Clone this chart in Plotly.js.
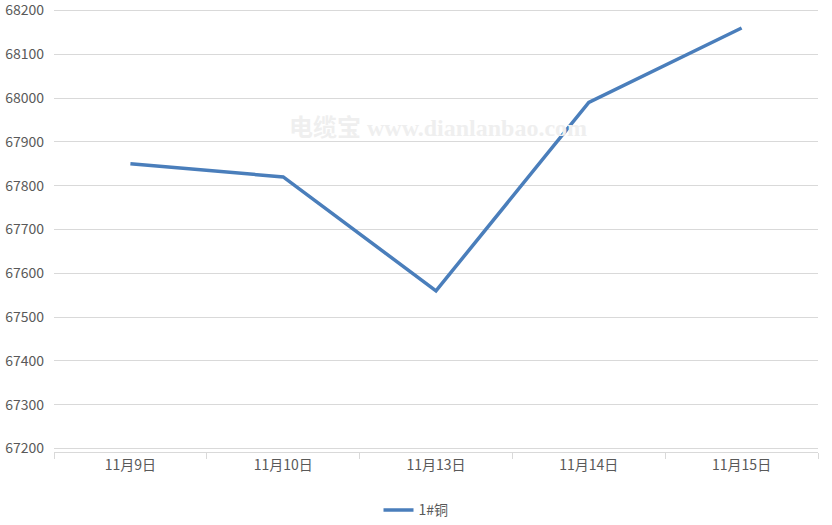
<!DOCTYPE html>
<html>
<head>
<meta charset="utf-8">
<script src="https://cdn.plot.ly/plotly-3.0.1.min.js"></script>
<style>html,body{margin:0;padding:0;background:#fff;}#chart{width:832px;height:525px;}</style>
</head>
<body>
<div id="chart"></div>
<script>
const categories = ["11月9日", "11月10日", "11月13日", "11月14日", "11月15日"];
const copperPrices = [67850, 67820, 67560, 67990, 68160];
const seriesName = "1#铜";
const yTicks = [67200, 67300, 67400, 67500, 67600, 67700, 67800, 67900, 68000, 68100, 68200];
const watermark = "电缆宝 www.dianlanbao.com";

const trace = {
  x: categories,
  y: copperPrices,
  type: "scatter",
  mode: "lines",
  name: seriesName,
  line: {color: "#4a7ebb", width: 3.5}
};

const layout = {
  width: 832, height: 525,
  margin: {l: 54, r: 14, t: 7, b: 73},
  paper_bgcolor: "#ffffff",
  plot_bgcolor: "#ffffff",
  font: {family: "'Noto Sans CJK SC', 'Liberation Sans', sans-serif", size: 14, color: "#595959"},
  showlegend: true,
  legend: {orientation: "h", x: 0.5, xanchor: "center", xref: "container",
           y: 0.028, yanchor: "middle", yref: "container",
           font: {size: 14, color: "#595959"}},
  xaxis: {
    type: "category",
    range: [-0.5, 4.5],
    showgrid: false,
    showline: true, linecolor: "#d9d9d9", linewidth: 1,
    ticks: "outside", tickson: "boundaries", ticklen: 6, tickcolor: "#d9d9d9",
    tickfont: {size: 14, color: "#595959"},
    zeroline: false
  },
  yaxis: {
    range: [67192, 68208],
    tickvals: yTicks,
    ticktext: yTicks.map(String),
    showgrid: true, gridcolor: "#d9d9d9", gridwidth: 1,
    showline: false, zeroline: false,
    ticks: "", ticklabelstandoff: 9,
    ticklabeloverflow: "allow",
    tickfont: {size: 14, color: "#595959"}
  },
  annotations: [{
    text: "<b>" + watermark + "</b>",
    xref: "paper", yref: "paper",
    x: 0.503, y: 0.73, xanchor: "center", yanchor: "middle",
    showarrow: false,
    font: {family: "'Liberation Serif', 'Noto Sans CJK SC', serif", size: 24, color: "#efefef"}
  }]
};

Plotly.newPlot("chart", [trace], layout, {displayModeBar: false, staticPlot: true});
</script>
</body>
</html>
